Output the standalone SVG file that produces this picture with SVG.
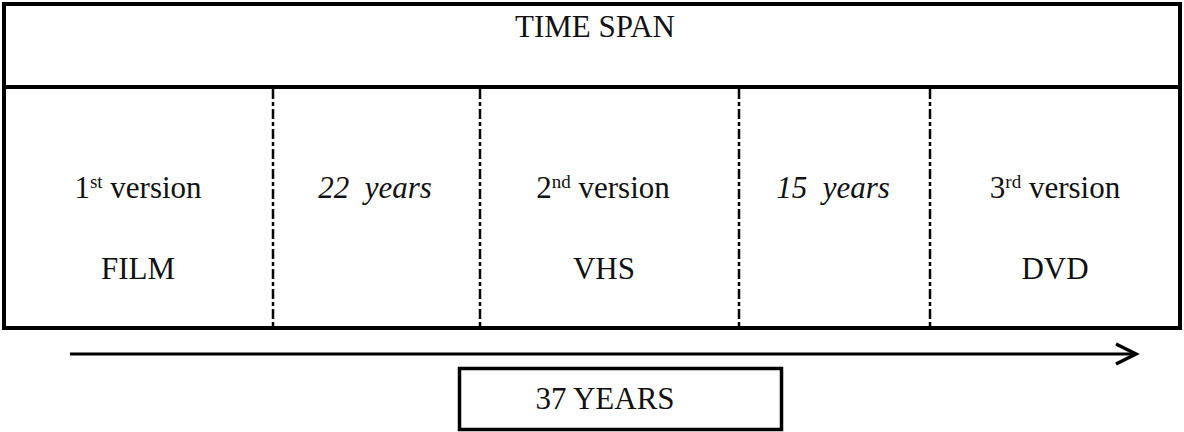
<svg xmlns="http://www.w3.org/2000/svg" width="1184" height="432" viewBox="0 0 1184 432">
<style>
text{font-family:"Liberation Serif","Times New Roman",serif;font-size:31px;fill:#111;text-anchor:middle;white-space:pre}
.it{font-style:italic}
.sup{font-size:19px}
.frame{fill:none;stroke:#000;stroke-width:4}
.div{stroke:#000;stroke-width:2.5;stroke-dasharray:10 3 4 3;fill:none}
</style>
<rect width="1184" height="432" fill="#fff"/>
<g id="frame">
<rect class="frame" x="4" y="4" width="1176" height="324"/>
<line x1="4" y1="87" x2="1180" y2="87" stroke="#000" stroke-width="4"/>
</g>
<g id="connectors">
<line class="div" x1="273" y1="89" x2="273" y2="326"/>
<line class="div" x1="480" y1="89" x2="480" y2="326" stroke-width="3"/>
<line class="div" x1="739" y1="89" x2="739" y2="326"/>
<line class="div" x1="930" y1="89" x2="930" y2="326"/>
<line x1="70" y1="354" x2="1134" y2="354" stroke="#000" stroke-width="3"/>
<polyline points="1116,344 1136,354 1116,364" fill="none" stroke="#000" stroke-width="3.5"/>
</g>
<g id="title"><text x="595" y="37">TIME SPAN</text></g>
<g id="v1"><text x="138" y="198">1<tspan class="sup" dy="-10">st</tspan><tspan dy="10"> version</tspan></text><text x="138" y="279">FILM</text></g>
<g id="gap1"><text class="it" x="375" y="198">22  years</text></g>
<g id="v2"><text x="603" y="198">2<tspan class="sup" dy="-10">nd</tspan><tspan dy="10"> version</tspan></text><text x="604" y="279">VHS</text></g>
<g id="gap2"><text class="it" x="833" y="198">15  years</text></g>
<g id="v3"><text x="1055" y="198">3<tspan class="sup" dy="-10">rd</tspan><tspan dy="10"> version</tspan></text><text x="1055" y="279">DVD</text></g>
<g id="total">
<rect x="459.5" y="368.5" width="322" height="61" fill="#fff" stroke="#000" stroke-width="3.5"/>
<text x="605" y="409">37 YEARS</text>
</g>
</svg>
